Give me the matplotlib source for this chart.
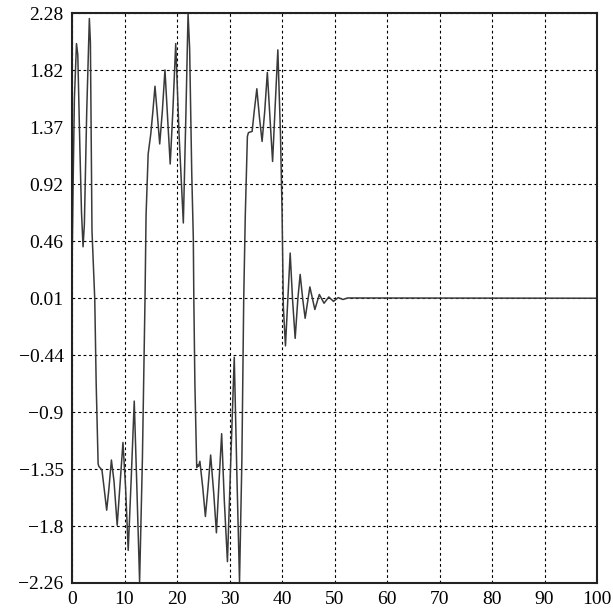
import matplotlib
matplotlib.use("Agg")
import matplotlib.pyplot as plt
import numpy as np

# Signal samples (time, amplitude)
t = [0.0, 0.2, 0.45, 0.85, 1.1, 1.5, 1.8, 2.1, 2.35, 2.8, 3.3, 3.5, 3.8,
     4.33, 4.6, 4.97, 5.1, 5.7, 6.1, 6.6, 7.0, 7.5, 8.0, 8.6, 9.1, 9.7,
     10.2, 10.7, 11.3, 11.85, 12.35, 12.87, 13.4, 13.9, 14.1, 14.5, 15.0,
     15.4, 15.8, 16.2, 16.7, 17.2, 17.7, 18.2, 18.7, 19.2, 19.75, 20.4,
     21.2, 21.7, 22.1, 22.4, 22.8, 23.1, 23.2, 23.4, 23.75, 23.9, 24.1,
     24.35, 24.9, 25.4, 25.9, 26.4, 27.0, 27.5, 28.0, 28.5, 29.0, 29.6,
     30.3, 30.9, 31.4, 31.9, 32.35, 32.7, 33.0, 33.4, 33.6, 34.3, 34.7,
     35.2, 35.7, 36.2, 36.7, 37.2, 37.7, 38.2, 38.7, 39.2, 39.7, 40.0,
     40.25, 40.65, 41.1, 41.55, 42.0, 42.5, 43.0, 43.45, 43.95, 44.4, 45.3,
     46.25, 47.1, 48.0, 48.9, 49.8, 50.7, 51.6, 52.5, 100.0]
v = [0.24, 0.9, 1.6, 2.04, 1.95, 1.2, 0.7, 0.42, 0.6, 1.5, 2.24, 2.05, 0.55,
     0.0, -0.67, -1.31, -1.33, -1.36, -1.5, -1.68, -1.52, -1.28, -1.45, -1.80, -1.5, -1.14,
     -1.5, -2.0, -1.4, -0.81, -1.5, -2.25, -1.28, 0.0, 0.67, 1.16, 1.32,
     1.5, 1.70, 1.5, 1.24, 1.5, 1.83, 1.45, 1.08, 1.5, 2.04, 1.3,
     0.61, 1.5, 2.28, 2.0, 1.01, 0.49, 0.0, -0.67, -1.34, -1.32, -1.33,
     -1.29, -1.5, -1.73, -1.5, -1.24, -1.55, -1.86, -1.45, -1.07, -1.6, -2.09,
     -1.2, -0.46, -1.4, -2.25, -1.28, 0.0, 0.67, 1.30, 1.33, 1.34, 1.5,
     1.68, 1.45, 1.26, 1.5, 1.81, 1.45, 1.10, 1.55, 1.99, 1.32, 0.71,
     -0.06, -0.37, 0.0, 0.37, 0.0, -0.31, 0.0, 0.20, 0.0, -0.15, 0.10,
     -0.08, 0.04, -0.03, 0.02, -0.015, 0.015, 0.0, 0.012, 0.01]

x_ticks = [0, 10, 20, 30, 40, 50, 60, 70, 80, 90, 100]
y_tick_labels = ["\u22122.26", "\u22121.8", "\u22121.35", "\u22120.9", "\u22120.44",
                 "0.01", "0.46", "0.92", "1.37", "1.82", "2.28"]
y_min, y_max = -2.26, 2.28

plt.rcParams['font.family'] = ['Liberation Serif', 'DejaVu Serif']

fig = plt.figure(figsize=(6.13, 6.13), dpi=100)
ax = fig.add_axes([0.1175, 0.049, 0.8565, 0.929])

ax.plot(t, v, color='#3a3a3a', linewidth=1.1)

ax.set_xlim(0, 100)
ax.set_ylim(y_min, y_max)
ax.set_xticks(x_ticks)
ax.set_xticklabels([str(x) for x in x_ticks])
ax.set_yticks(np.linspace(y_min, y_max, len(y_tick_labels)))
ax.set_yticklabels(y_tick_labels)
ax.tick_params(length=0, labelsize=14, pad=6, colors='black')

ax.grid(True, color='black', linestyle=(0, (2.5, 2.5)), linewidth=0.8)
for s in ax.spines.values():
    s.set_linewidth(1.5)
    s.set_color('#222222')

fig.savefig("out.png", dpi=100)
